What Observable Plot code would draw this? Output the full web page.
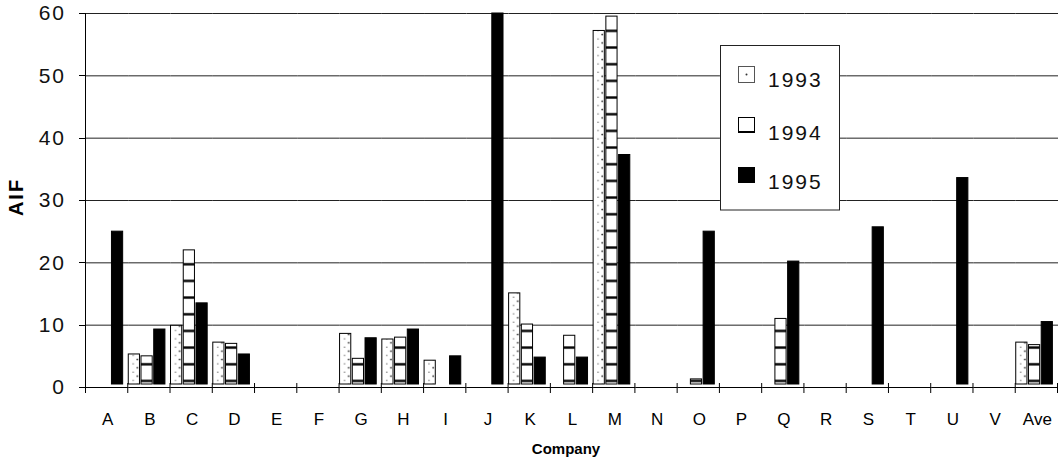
<!DOCTYPE html>
<html>
<head>
<meta charset="utf-8">
<script src="https://cdn.jsdelivr.net/npm/d3@7"></script>
<script src="https://cdn.jsdelivr.net/npm/@observablehq/plot@0.6"></script>
<style>
html,body{margin:0;padding:0;background:#fff;}
#chart{position:relative;width:1058px;height:463px;overflow:hidden;}
</style>
</head>
<body>
<svg width="0" height="0" style="position:absolute">
  <defs>
    <pattern id="p1993" patternUnits="userSpaceOnUse" width="12.73" height="8.33" x="0" y="0.8">
      <rect width="12.73" height="8.33" fill="#fff"/>
      <circle cx="6" cy="0.5" r="0.9" fill="#333"/>
      <circle cx="6" cy="8.83" r="0.9" fill="#333"/>
      <rect x="1" y="4.4" width="1.6" height="0.8" fill="#555"/>
    </pattern>
    <pattern id="p1994" patternUnits="userSpaceOnUse" width="10" height="16.67">
      <rect width="10" height="16.67" fill="#fff"/>
      <rect y="13" width="10" height="2.4" fill="#000"/>
    </pattern>
  </defs>
</svg>
<div id="chart"></div>
<script>
const companies = ["A","B","C","D","E","F","G","H","I","J","K","L","M","N","O","P","Q","R","S","T","U","V","Ave"];
const years = ["1993","1994","1995"];
const aif1993 = [null, 5.3, 9.9, 7.2, null, null, 8.6, 7.7, 4.3, null, 15.1, null, 57.2, null, null, null, null, null, null, null, null, null, 7.2];
const aif1994 = [null, 5.0, 22.0, 7.0, null, null, 4.6, 8.0, null, null, 10.1, 8.3, 59.5, null, 1.3, null, 11.0, null, null, null, null, null, 6.8];
const aif1995 = [25.0, 9.3, 13.5, 5.3, null, null, 7.9, 9.3, 5.0, 60.0, 4.8, 4.8, 37.3, null, 25.0, null, 20.2, null, 25.7, null, 33.6, null, 10.5];
const yTicks = [0, 10, 20, 30, 40, 50, 60];
const fills = ["url(#p1993)", "url(#p1994)", "#000"];

const series = [aif1993, aif1994, aif1995];
const rows = [];
companies.forEach((c, i) => {
  series.forEach((arr, j) => {
    if (arr[i] != null) rows.push({company: c, year: years[j], value: arr[i]});
  });
});
// gridline table: one rule per company facet per tick (so every facet is drawn)
const gridRows = companies.flatMap(c => yTicks.map(v => ({company: c, value: v})));

const plot = Plot.plot({
  width: 1058,
  height: 463,
  marginLeft: 86,
  marginRight: 0,
  marginTop: 13,
  marginBottom: 76,
  style: {fontFamily: "'Liberation Sans', Arial, sans-serif", background: "#fff", color: "#000"},
  fx: {domain: companies, padding: 0, round: false, label: null},
  x: {domain: years, paddingInner: 0.12, paddingOuter: 0.22, align: 0, round: false, axis: null},
  y: {domain: [0, 60], label: null, axis: null},
  marks: [
    Plot.ruleY(gridRows.filter(d => d.value > 0), {fx: "company", y: "value", stroke: "#222", strokeWidth: 1}),
    ...years.map((yr, j) => Plot.barY(rows.filter(d => d.year === yr), {
      fx: "company", x: "year", y: "value",
      fill: fills[j], stroke: "#000", strokeWidth: 1, insetBottom: 3
    })),
    Plot.ruleY(gridRows.filter(d => d.value === 0), {fx: "company", y: "value", stroke: "#000", strokeWidth: 1}),
    Plot.axisFx({anchor: "bottom", tickSize: 0, tickPadding: 25, fontSize: 17, label: null})
  ]
});

document.getElementById("chart").appendChild(plot);

const svg = d3.select(plot);
const fx = plot.scale("fx");
const y = plot.scale("y");
const y0 = y.apply(0), y60 = y.apply(60);
const x0 = fx.range[0];

// y axis (ticks + labels from the y scale)
const ya = svg.append("g");
ya.append("line")
  .attr("x1", x0 - 0.5).attr("x2", x0 - 0.5)
  .attr("y1", y60).attr("y2", y0 + 6)
  .attr("stroke", "#000");
ya.selectAll("line.tk").data(yTicks).join("line").attr("class", "tk")
  .attr("x1", x0 - 7).attr("x2", x0)
  .attr("y1", d => Math.round(y.apply(d)) + 0.5).attr("y2", d => Math.round(y.apply(d)) + 0.5)
  .attr("stroke", "#000");
ya.selectAll("text").data(yTicks).join("text")
  .attr("x", x0 - 20)
  .attr("y", d => y.apply(d))
  .attr("dy", "0.35em")
  .attr("text-anchor", "end")
  .attr("font-size", 21)
  .attr("fill", "#111")
  .style("letter-spacing", "2px")
  .text(d => d);

// category boundary ticks
const bounds = companies.map(c => fx.apply(c)).concat([fx.apply(companies[companies.length - 1]) + fx.bandwidth]);
svg.append("g").selectAll("line").data(bounds.slice(1)).join("line")
  .attr("x1", d => d - 0.5).attr("x2", d => d - 0.5)
  .attr("y1", y0 - 4).attr("y2", y0 + 6)
  .attr("stroke", "#000");

// axis titles
svg.append("text")
  .attr("x", (fx.range[0] + fx.range[1]) / 2 - 6)
  .attr("y", 454)
  .attr("text-anchor", "middle")
  .attr("font-size", 15)
  .attr("font-weight", "bold")
  .attr("fill", "#000")
  .text("Company");

svg.append("text")
  .attr("transform", `translate(23,${(y0 + y60) / 2 - 3}) rotate(-90)`)
  .attr("text-anchor", "middle")
  .attr("font-size", 20)
  .attr("font-weight", "bold")
  .attr("fill", "#000")
  .style("letter-spacing", "2px")
  .text("AIF");

// legend
const lg = svg.append("g");
lg.append("rect").attr("x", 720.5).attr("y", 45.5).attr("width", 119).attr("height", 164.5)
  .attr("fill", "#fff").attr("stroke", "#222");
const legendRows = [87, 140, 189];
lg.append("rect").attr("x", 738.5).attr("y", 66.5).attr("width", 16).attr("height", 16)
  .attr("fill", "#fff").attr("stroke", "#555");
lg.append("circle").attr("cx", 746.5).attr("cy", 74.5).attr("r", 1).attr("fill", "#333");
lg.append("rect").attr("x", 738.5).attr("y", 117.5).attr("width", 16).attr("height", 15)
  .attr("fill", "#fff").attr("stroke", "#000");
lg.append("line").attr("x1", 738).attr("x2", 755).attr("y1", 132).attr("y2", 132)
  .attr("stroke", "#000").attr("stroke-width", 2);
lg.append("rect").attr("x", 738).attr("y", 167).attr("width", 17).attr("height", 16).attr("fill", "#000");
years.forEach((yr, i) => {
  lg.append("text").attr("x", 768).attr("y", legendRows[i])
    .attr("text-anchor", "start")
    .attr("font-size", 21).attr("fill", "#111")
    .style("letter-spacing", "2px")
    .text(yr);
});
</script>
</body>
</html>
